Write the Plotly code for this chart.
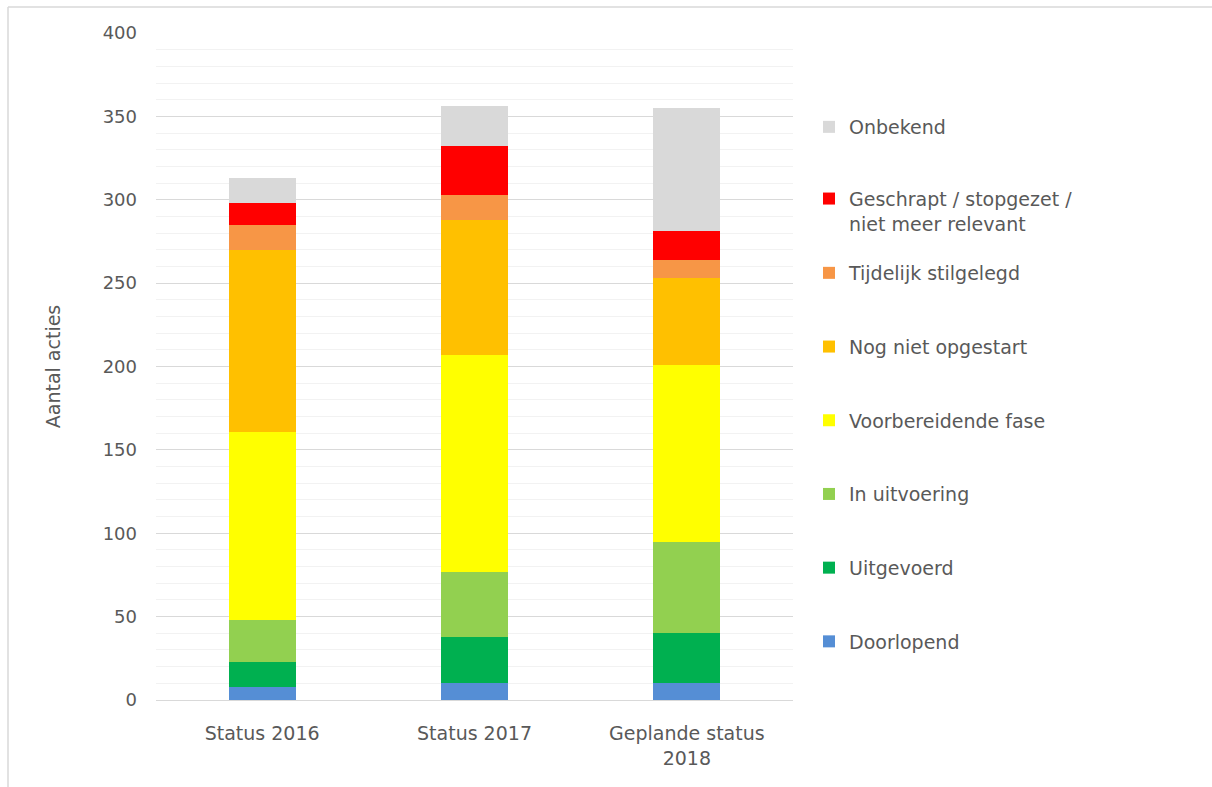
import plotly.graph_objects as go

# Categories on the x axis
categories = ["Status 2016", "Status 2017", "Geplande status<br>2018"]

# Stacked series, bottom to top
series_names = [
    "Doorlopend",
    "Uitgevoerd",
    "In uitvoering",
    "Voorbereidende fase",
    "Nog niet opgestart",
    "Tijdelijk stilgelegd",
    "Geschrapt / stopgezet /<br>niet meer relevant",
    "Onbekend",
]
doorlopend = [8, 10, 10]
uitgevoerd = [15, 28, 30]
in_uitvoering = [25, 39, 55]
voorbereidende_fase = [113, 130, 106]
nog_niet_opgestart = [109, 81, 52]
tijdelijk_stilgelegd = [15, 15, 11]
geschrapt = [13, 29, 17]
onbekend = [15, 24, 74]

series_values = [
    doorlopend,
    uitgevoerd,
    in_uitvoering,
    voorbereidende_fase,
    nog_niet_opgestart,
    tijdelijk_stilgelegd,
    geschrapt,
    onbekend,
]
series_colors = [
    "#558ED5",
    "#00B050",
    "#92D050",
    "#FFFF00",
    "#FFC000",
    "#F79646",
    "#FF0000",
    "#D9D9D9",
]
# the two top statuses go in the upper legend block, the rest in the lower one
series_legend = ["legend2"] * 6 + ["legend", "legend"]

y_ticks = [0, 50, 100, 150, 200, 250, 300, 350, 400]

FONT = "DejaVu Sans"
TEXT = "#595959"

fig = go.Figure()
n = len(series_names)
for i, (name, vals, color, leg) in enumerate(
    zip(series_names, series_values, series_colors, series_legend)
):
    fig.add_trace(
        go.Bar(
            x=categories,
            y=vals,
            name=name,
            legendgroup=name,
            legendrank=n - i,  # top of the stack listed first
            legend=leg,
            marker=dict(color=color, line=dict(width=0)),
        )
    )

# plot area in pixels
L, R, T, B = 156, 419, 33, 87
W = 1212 - L - R
H = 787 - T - B


def px_x(p):
    return (p - L) / W


def px_y(p):
    return (787 - B - p) / H


legend_common = dict(
    xanchor="left",
    yanchor="top",
    bgcolor="rgba(0,0,0,0)",
    font=dict(family=FONT, size=19, color=TEXT),
    traceorder="grouped",
    valign="top",
    itemclick=False,
    itemdoubleclick=False,
)

fig.update_layout(
    width=1212,
    height=787,
    margin=dict(l=L, r=R, t=T, b=B, pad=0),
    paper_bgcolor="white",
    plot_bgcolor="white",
    barmode="stack",
    bargap=0.685,
    font=dict(family=FONT, size=18, color=TEXT),
    legend=dict(x=px_x(809), y=px_y(108), tracegroupgap=44, **legend_common),
    legend2=dict(x=px_x(809), y=px_y(254), tracegroupgap=46, **legend_common),
    xaxis=dict(
        showgrid=False,
        showline=False,
        ticks="",
        tickfont=dict(family=FONT, size=19, color=TEXT),
        ticklabelstandoff=20,
    ),
    yaxis=dict(
        range=[0, 400],
        tickvals=y_ticks,
        showgrid=True,
        gridcolor="#D9D9D9",
        gridwidth=1,
        zeroline=True,
        zerolinecolor="#D9D9D9",
        zerolinewidth=1,
        showline=False,
        ticks="",
        ticklabelstandoff=18,
        tickfont=dict(family=FONT, size=18, color=TEXT),
        minor=dict(dtick=10, showgrid=True, gridcolor="#F2F2F2", gridwidth=1),
        title=dict(
            text="Aantal acties",
            font=dict(family=FONT, size=19, color=TEXT),
            standoff=36,
        ),
    ),
    shapes=[
        # chart frame (left and top edges)
        dict(type="line", xref="paper", yref="paper",
             x0=px_x(8), x1=px_x(8), y0=px_y(787), y1=px_y(7),
             line=dict(color="#D9D9D9", width=1.5)),
        dict(type="line", xref="paper", yref="paper",
             x0=px_x(8), x1=px_x(1212), y0=px_y(7), y1=px_y(7),
             line=dict(color="#D9D9D9", width=1.5)),
    ],
)

fig.write_html("out.html")
